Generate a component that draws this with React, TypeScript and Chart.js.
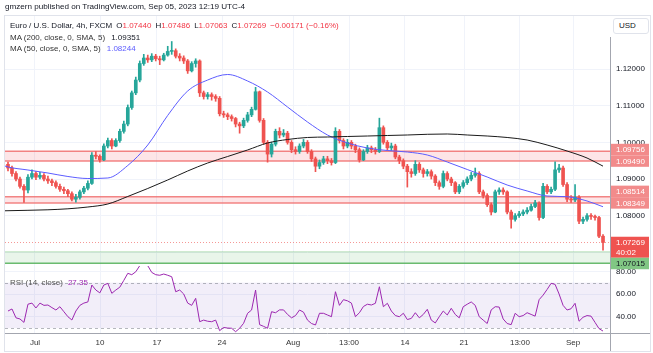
import React, { useEffect, useRef } from "react";
import { Chart, registerables } from "chart.js";
Chart.register(...registerables);

const FONT = "'Liberation Sans', Arial, Helvetica, sans-serif";

// ---------- data ----------
const firstOpen = 1.094;
const closes = [
  1.0930, 1.0915, 1.0900, 1.0880, 1.0870, 1.0905, 1.0915, 1.0905, 1.0910, 1.0900,
  1.0895, 1.0890, 1.0880, 1.0872, 1.0868, 1.0860, 1.0845, 1.0850, 1.0865, 1.0875,
  1.0888, 1.0965, 1.0962, 1.0952, 1.0990, 1.1005, 1.0990, 1.1005, 1.1030, 1.1050,
  1.1095, 1.1135, 1.1170, 1.1215, 1.1230, 1.1225, 1.1235, 1.1228, 1.1225, 1.1238,
  1.1248, 1.1250, 1.1235, 1.1230, 1.1222, 1.1195, 1.1215, 1.1222, 1.1135, 1.1125,
  1.1130, 1.1125, 1.1120, 1.1078, 1.1075, 1.1070, 1.1065, 1.1050, 1.1045, 1.1060,
  1.1075, 1.1090, 1.1138, 1.1060, 1.1000, 1.0968, 1.0995, 1.1030, 1.1020, 1.1025,
  1.1000, 1.0980, 1.0975, 1.0990, 1.1000, 1.0975, 1.0955, 1.0935, 1.0945, 1.0955,
  1.0950, 1.0945, 1.1030, 1.1005, 1.0990, 1.1000, 1.0990, 1.0980, 1.0952, 1.0975,
  1.0985, 1.0980, 1.0975, 1.1040, 1.1000, 1.0985, 1.0990, 1.0960, 1.0950, 1.0935,
  1.0920, 1.0915, 1.0940, 1.0925, 1.0915, 1.0920, 1.0908, 1.0890, 1.0880, 1.0915,
  1.0900, 1.0890, 1.0865, 1.0880, 1.0890, 1.0900, 1.0910, 1.0915, 1.0865, 1.0855,
  1.0830, 1.0810, 1.0865, 1.0870, 1.0865, 1.0810, 1.0790, 1.0800, 1.0805, 1.0810,
  1.0815, 1.0825, 1.0835, 1.0795, 1.0880, 1.0865, 1.0872, 1.0925, 1.0930, 1.0885,
  1.0845, 1.0843, 1.0850, 1.0785, 1.0790, 1.0800, 1.0798, 1.0795, 1.0744, 1.07269,
];
const highs = [
  1.0946, 1.0935, 1.0920, 1.0905, 1.0885, 1.0912, 1.0925, 1.0920, 1.0918, 1.0915,
  1.0908, 1.0900, 1.0895, 1.0886, 1.0878, 1.0872, 1.0865, 1.0858, 1.0870, 1.0880,
  1.0895, 1.0972, 1.0975, 1.0966, 1.0996, 1.1012, 1.1010, 1.1010, 1.1036, 1.1058,
  1.1102, 1.1140, 1.1178, 1.1222, 1.1240, 1.1238, 1.1242, 1.1240, 1.1235, 1.1243,
  1.1262, 1.1275, 1.1255, 1.1242, 1.1236, 1.1226, 1.1220, 1.1228, 1.1225, 1.1140,
  1.1136, 1.1135, 1.1130, 1.1125, 1.1085, 1.1080, 1.1075, 1.1068, 1.1055, 1.1066,
  1.1082, 1.1096, 1.1150, 1.1140, 1.1065, 1.1005, 1.1000, 1.1036, 1.1040, 1.1035,
  1.1030, 1.1005, 1.0988, 1.0996, 1.1008, 1.1005, 1.0980, 1.0960, 1.0952, 1.0962,
  1.0962, 1.0956, 1.1040, 1.1035, 1.1010, 1.1008, 1.1005, 1.0995, 1.0985, 1.0980,
  1.0992, 1.0990, 1.0986, 1.1066, 1.1045, 1.1005, 1.0998, 1.0995, 1.0965, 1.0955,
  1.0940, 1.0928, 1.0950, 1.0945, 1.0930, 1.0926, 1.0925, 1.0912, 1.0895, 1.0922,
  1.0920, 1.0905, 1.0893, 1.0885, 1.0896, 1.0906, 1.0918, 1.0930, 1.0920, 1.0870,
  1.0860, 1.0835, 1.0870, 1.0876, 1.0876, 1.0868, 1.0815, 1.0806, 1.0812, 1.0816,
  1.0822, 1.0832, 1.0842, 1.0838, 1.0888, 1.0885, 1.0878, 1.0947, 1.0940, 1.0935,
  1.0890, 1.0855, 1.0885, 1.0855, 1.0796, 1.0806, 1.0806, 1.0802, 1.0798, 1.07486,
];
const lows = [
  1.0922, 1.0908, 1.0895, 1.0875, 1.0836, 1.0862, 1.0900, 1.0898, 1.0900, 1.0895,
  1.0888, 1.0882, 1.0875, 1.0866, 1.0860, 1.0852, 1.0840, 1.0837, 1.0845, 1.0860,
  1.0870, 1.0885, 1.0955, 1.0946, 1.0950, 1.0985, 1.0982, 1.0988, 1.1000, 1.1025,
  1.1045, 1.1090, 1.1130, 1.1165, 1.1210, 1.1218, 1.1220, 1.1222, 1.1212, 1.1222,
  1.1235, 1.1240, 1.1230, 1.1222, 1.1215, 1.1188, 1.1192, 1.1205, 1.1125, 1.1118,
  1.1118, 1.1115, 1.1112, 1.1072, 1.1068, 1.1062, 1.1058, 1.1042, 1.1025, 1.1040,
  1.1055, 1.1070, 1.1088, 1.1055, 1.0995, 1.0946, 1.0960, 1.0990, 1.1012, 1.1015,
  1.0995, 1.0972, 1.0968, 1.0970, 1.0985, 1.0970, 1.0948, 1.0920, 1.0928, 1.0940,
  1.0942, 1.0938, 1.0942, 1.0998, 1.0982, 1.0985, 1.0982, 1.0972, 1.0946, 1.0950,
  1.0970, 1.0972, 1.0968, 1.0972, 1.0995, 1.0978, 1.0978, 1.0955, 1.0942, 1.0928,
  1.0878, 1.0905, 1.0910, 1.0918, 1.0905, 1.0908, 1.0900, 1.0882, 1.0872, 1.0876,
  1.0895, 1.0882, 1.0860, 1.0860, 1.0875, 1.0885, 1.0895, 1.0905, 1.0860, 1.0848,
  1.0825, 1.0802, 1.0808, 1.0858, 1.0858, 1.0805, 1.0766, 1.0785, 1.0795, 1.0800,
  1.0805, 1.0812, 1.0822, 1.0788, 1.0792, 1.0860, 1.0860, 1.0868, 1.0918, 1.0880,
  1.0838, 1.0836, 1.0838, 1.0778, 1.0778, 1.0785, 1.0790, 1.0788, 1.0740, 1.07063,
];
const rsi = [
  45, 46.8, 39, 38, 35, 51, 52, 47.7, 52, 50,
  50.3, 48, 45.9, 48.8, 44.4, 40, 37.1, 45, 50, 52,
  53, 67.9, 63.5, 61, 67.9, 69.4, 60.6, 63.5, 66, 72,
  78.2, 77, 79.6, 85, 86, 85, 79, 77, 76.5, 77.6,
  76.5, 75.2, 62, 63.5, 60, 52, 50, 56.2, 35.6, 37,
  36, 35.6, 37, 27.7, 30.5, 30, 29.8, 26.8, 29.8, 34.2,
  43, 45.9, 63.5, 33, 31.5, 29.8, 44.4, 43.5, 46, 46,
  42, 39, 41, 45.9, 44, 37, 34, 32.7, 43, 43,
  41.5, 40, 62, 50, 55, 54, 52, 40, 43.5, 49,
  51, 50.3, 51.8, 66.4, 48.8, 51.8, 45, 41, 40, 43,
  37.5, 38.5, 43.5, 39, 42, 46.5, 37, 34.5, 40, 45,
  41.5, 47.4, 42, 39, 48.8, 51, 53, 50, 40, 37,
  34, 46, 48.8, 48.5, 38, 34, 33, 43, 40, 41,
  43.5, 42, 40.5, 55, 59, 64, 69.4, 68.5, 60, 50,
  45.9, 47, 51.8, 36, 39.5, 41, 40.5, 35, 29.5, 27.35,
];
// moving averages sampled at candle indices
const maIdx = [-0.75, 0, 5, 10, 15, 20, 25, 30, 35, 40, 45, 50, 55, 60, 65, 70, 75, 80, 85, 90, 95, 100, 105, 110, 115, 120, 125, 130, 135, 140, 145, 149];
const ma200 = [
  1.08134, 1.08136, 1.08147, 1.08161, 1.08188, 1.08237, 1.08319, 1.08524, 1.08742, 1.08974,
  1.09219, 1.09437, 1.09614, 1.09792, 1.09983, 1.10078, 1.10133, 1.10146, 1.10160, 1.10173,
  1.10187, 1.10201, 1.10220, 1.10228, 1.10201, 1.10173, 1.10133, 1.10064, 1.09928, 1.09764,
  1.09573, 1.09351,
];
const ma50 = [
  1.09355, 1.09328, 1.09246, 1.09164, 1.09069, 1.09014, 1.09028, 1.09370, 1.09928, 1.10735,
  1.11401, 1.11700, 1.11851, 1.11673, 1.11373, 1.10964, 1.10555, 1.10201, 1.09983, 1.09846,
  1.09778, 1.09737, 1.09655, 1.09464, 1.09260, 1.09055, 1.08837, 1.08674, 1.08537, 1.08518,
  1.08401, 1.08244,
];
const timeTickPos = [6.76, 23.04, 37.3, 53.6, 71.4, 85.4, 99.4, 114.2, 128.2, 141.5];
const timeTickLabels = ["Jul", "10", "17", "24", "Aug", "13:00", "14", "21", "13:00", "Sep"];
const priceTicks = [1.07, 1.08, 1.09, 1.1, 1.11, 1.12];
const rsiTicks = [40, 60, 80];
const rsiBand = [30, 70];
const resistanceZone = [1.0949, 1.09756];
const midZone = [1.08349, 1.08514];
const supportZone = [1.06702, 1.07015];
const lastClose = 1.07269;
const countdown = "40:02";
const ohlcLetters = ["O", "H", "L", "C"];
const ohlcValues = [1.0744, 1.07486, 1.07063, 1.07269];
const change = -0.00171;
const changePct = -0.16;
const ma200Last = 1.09351;
const ma50Last = 1.08244;
const rsiLast = 27.35;

// view ranges
const xMin = -0.75;
const xMax = 150.75;
const priceMin = 1.06628;
const priceMax = 1.13446;
const rsiMin = 25.64;
const rsiMax = 84.67;

const UP = "#26a69a";
const DOWN = "#ef5350";
const GRID = "#f0f3fa";
const AXIS = "#a3a6af";

const fmt5 = (v: number) => v.toFixed(5);

const noPad = (s: any) => {
  s.paddingTop = 0;
  s.paddingBottom = 0;
  s.paddingLeft = 0;
  s.paddingRight = 0;
};

const mainPlugin = {
  id: "mainDecor",
  beforeDatasetsDraw(chart: any) {
    const { ctx, chartArea: a, scales } = chart;
    const y = scales.y;
    ctx.save();
    ctx.beginPath();
    ctx.rect(a.left, a.top, a.right - a.left, a.bottom - a.top);
    ctx.clip();
    const hline = (yy: number, color: string, w: number, dash: number[] = []) => {
      ctx.beginPath();
      ctx.setLineDash(dash);
      ctx.strokeStyle = color;
      ctx.lineWidth = w;
      ctx.moveTo(a.left, yy);
      ctx.lineTo(a.right, yy);
      ctx.stroke();
      ctx.setLineDash([]);
    };
    const zone = (lo: number, hi: number, fill: string, topC: string, botC: string, topW: number, botW: number) => {
      const y1 = y.getPixelForValue(hi);
      const y2 = y.getPixelForValue(lo);
      ctx.fillStyle = fill;
      ctx.fillRect(a.left, y1, a.right - a.left, y2 - y1);
      hline(y1, topC, topW);
      hline(y2, botC, botW);
    };
    zone(resistanceZone[0], resistanceZone[1], "rgba(242,54,69,0.13)", "rgba(240,110,110,0.85)", "rgba(240,110,110,0.85)", 1.5, 1.5);
    zone(midZone[0], midZone[1], "rgba(242,54,69,0.13)", "rgba(240,110,110,0.85)", "rgba(240,110,110,0.85)", 1.5, 1.5);
    zone(supportZone[0], supportZone[1], "rgba(76,175,80,0.12)", "rgba(76,175,80,0.35)", "rgba(90,180,95,0.9)", 1, 1.5);
    hline(Math.round(y.getPixelForValue(lastClose)) + 0.5, "rgba(239,83,80,0.6)", 1, [1, 2]);
    ctx.restore();
  },
  afterDraw(chart: any) {
    const { ctx, chartArea: a, scales } = chart;
    const y = scales.y;
    ctx.save();
    ctx.strokeStyle = AXIS;
    ctx.lineWidth = 1;
    ctx.beginPath();
    ctx.moveTo(a.right + 0.5, 21);
    ctx.lineTo(a.right + 0.5, chart.height);
    ctx.stroke();
    const labs = [
      { price: lastClose, lines: [fmt5(lastClose), countdown], bg: "#ef5350", fg: "#ffffff" },
      { price: supportZone[1], lines: [fmt5(supportZone[1])], bg: "#81c784", fg: "#131722" },
      { price: midZone[0], lines: [fmt5(midZone[0])], bg: "#f28b8b", fg: "#ffffff" },
      { price: midZone[1], lines: [fmt5(midZone[1])], bg: "#f28b8b", fg: "#ffffff" },
      { price: resistanceZone[0], lines: [fmt5(resistanceZone[0])], bg: "#f28b8b", fg: "#ffffff" },
      { price: resistanceZone[1], lines: [fmt5(resistanceZone[1])], bg: "#f28b8b", fg: "#ffffff" },
    ];
    const placed: { yc: number; top: number; bot: number }[] = [];
    const boxes: { yc: number; top: number; bot: number; lab: any }[] = [];
    for (const lab of labs) {
      const yn = y.getPixelForValue(lab.price);
      const up = 5.75;
      const down = 5.75 + (lab.lines.length - 1) * 9.5;
      let yc = yn;
      for (let pass = 0; pass < 3; pass++) {
        for (const p of placed) {
          const top = yc - up;
          const bot = yc + down;
          if (bot > p.top && top < p.bot) {
            if (yn < p.yc) yc = p.top - down;
            else yc = p.bot + up;
          }
        }
      }
      const b = { yc, top: yc - up, bot: yc + down };
      placed.push(b);
      boxes.push({ ...b, lab });
    }
    ctx.font = `8px ${FONT}`;
    ctx.textBaseline = "middle";
    ctx.textAlign = "left";
    for (const b of boxes) {
      ctx.fillStyle = b.lab.bg;
      ctx.fillRect(a.right + 1, b.top, chart.width - a.right - 2, b.bot - b.top);
      ctx.fillStyle = b.lab.fg;
      b.lab.lines.forEach((t: string, k: number) => {
        ctx.fillText(t, a.right + 6, b.yc + k * 9.5 + 0.5);
      });
    }
    ctx.restore();
  },
};

const rsiPlugin = {
  id: "rsiDecor",
  beforeDatasetsDraw(chart: any) {
    const { ctx, chartArea: a, scales } = chart;
    const y = scales.y;
    ctx.save();
    const y1 = y.getPixelForValue(rsiBand[1]);
    const y2 = y.getPixelForValue(rsiBand[0]);
    ctx.fillStyle = "rgba(126,87,194,0.1)";
    ctx.fillRect(a.left, y1, a.right - a.left, y2 - y1);
    ctx.strokeStyle = "rgba(120,123,134,0.55)";
    ctx.lineWidth = 1;
    ctx.setLineDash([3, 3]);
    [y1, y2].forEach((yy) => {
      ctx.beginPath();
      ctx.moveTo(a.left, Math.round(yy) + 0.5);
      ctx.lineTo(a.right, Math.round(yy) + 0.5);
      ctx.stroke();
    });
    ctx.restore();
  },
  afterDraw(chart: any) {
    const { ctx, chartArea: a } = chart;
    ctx.save();
    ctx.strokeStyle = AXIS;
    ctx.lineWidth = 1;
    ctx.beginPath();
    ctx.moveTo(a.right + 0.5, 0);
    ctx.lineTo(a.right + 0.5, chart.height);
    ctx.moveTo(0, a.bottom + 0.5);
    ctx.lineTo(chart.width, a.bottom + 0.5);
    ctx.stroke();
    ctx.restore();
  },
};

export default function App() {
  const mainRef = useRef<HTMLCanvasElement>(null);
  const rsiRef = useRef<HTMLCanvasElement>(null);

  useEffect(() => {
    const opens = closes.map((c, i) => (i === 0 ? firstOpen : closes[i - 1]));
    const colors = closes.map((c, i) => (c >= opens[i] ? UP : DOWN));
    const bodies = closes.map((c, i) => ({ x: i, y: [Math.min(opens[i], c), Math.max(opens[i], c)] }));
    const wicks = closes.map((c, i) => ({
      x: i,
      y: [Math.min(lows[i], opens[i], c), Math.max(highs[i], opens[i], c)],
    }));

    const main = new Chart(mainRef.current as HTMLCanvasElement, {
      type: "bar",
      data: {
        datasets: [
          {
            type: "line",
            data: maIdx.map((x, k) => ({ x, y: ma200[k] })),
            borderColor: "#1a1a1a",
            borderWidth: 1,
            pointRadius: 0,
            cubicInterpolationMode: "monotone",
          } as any,
          {
            type: "line",
            data: maIdx.map((x, k) => ({ x, y: ma50[k] })),
            borderColor: "#5c5cff",
            borderWidth: 1,
            pointRadius: 0,
            cubicInterpolationMode: "monotone",
          } as any,
          {
            type: "bar",
            data: bodies,
            backgroundColor: colors,
            barThickness: 3,
            grouped: false,
            minBarLength: 1,
            borderWidth: 0,
          } as any,
          {
            type: "bar",
            data: wicks,
            backgroundColor: colors,
            barThickness: 1,
            grouped: false,
            borderWidth: 0,
          } as any,
        ],
      },
      options: {
        responsive: false,
        animation: false,
        events: [],
        layout: { padding: { left: 0, right: 0, top: 0, bottom: 6 }, autoPadding: false },
        plugins: { legend: { display: false }, tooltip: { enabled: false } },
        scales: {
          x: {
            type: "linear",
            min: xMin,
            max: xMax,
            offset: false,
            grid: { color: GRID, drawTicks: false, offset: false },
            border: { display: false },
            ticks: { display: false },
            afterBuildTicks: (s: any) => {
              s.ticks = timeTickPos.map((v) => ({ value: v }));
            },
            afterFit: (s: any) => {
              s.height = 0;
              noPad(s);
            },
          },
          y: {
            position: "right",
            min: priceMin,
            max: priceMax,
            grid: { color: GRID, drawTicks: false },
            border: { display: false },
            ticks: {
              padding: 6,
              color: "#131722",
              font: { size: 8, family: FONT },
              callback: (v: any) => Number(v).toFixed(5),
            },
            afterBuildTicks: (s: any) => {
              s.ticks = priceTicks.map((v) => ({ value: v }));
            },
            afterFit: (s: any) => {
              s.width = 40;
              noPad(s);
            },
          },
        },
      } as any,
      plugins: [mainPlugin],
    });

    const rsiChart = new Chart(rsiRef.current as HTMLCanvasElement, {
      type: "line",
      data: {
        datasets: [
          {
            data: rsi.map((v, i) => ({ x: i, y: v })),
            borderColor: "#9c27b0",
            borderWidth: 1,
            pointRadius: 0,
            tension: 0,
          },
        ],
      },
      options: {
        responsive: false,
        animation: false,
        events: [],
        layout: { padding: 0, autoPadding: false },
        plugins: { legend: { display: false }, tooltip: { enabled: false } },
        scales: {
          x: {
            type: "linear",
            min: xMin,
            max: xMax,
            grid: { color: GRID, drawTicks: false },
            border: { display: false },
            ticks: {
              padding: 5,
              color: "#333333",
              font: { size: 8, family: FONT },
              autoSkip: false,
              maxRotation: 0,
              callback: (_v: any, idx: number) => timeTickLabels[idx],
            },
            afterBuildTicks: (s: any) => {
              s.ticks = timeTickPos.map((v) => ({ value: v }));
            },
            afterFit: (s: any) => {
              s.height = 18;
              noPad(s);
            },
          },
          y: {
            position: "right",
            min: rsiMin,
            max: rsiMax,
            grid: { color: GRID, drawTicks: false },
            border: { display: false },
            ticks: {
              padding: 6,
              color: "#131722",
              font: { size: 8, family: FONT },
              callback: (v: any) => Number(v).toFixed(2),
            },
            afterBuildTicks: (s: any) => {
              s.ticks = rsiTicks.map((v) => ({ value: v }));
            },
            afterFit: (s: any) => {
              s.width = 40;
              noPad(s);
            },
          },
        },
      } as any,
      plugins: [rsiPlugin],
    });

    return () => {
      main.destroy();
      rsiChart.destroy();
    };
  }, []);

  const red = "#f23645";
  const txt: React.CSSProperties = { position: "absolute", whiteSpace: "nowrap", fontSize: 8, lineHeight: "11px", zIndex: 3 };

  return (
    <div style={{ position: "absolute", left: 0, top: 0, width: 653, height: 353, background: "#ffffff", fontFamily: FONT, overflow: "hidden" }}>
      <div style={{ ...txt, left: 5, top: 1, color: "#131722", fontSize: 8.1 }}>
        gmzern published on TradingView.com, Sep 05, 2023 12:19 UTC-4
      </div>
      <div style={{ position: "absolute", left: 4, top: 15, width: 647, height: 337, border: "1px solid #e0e3eb", boxSizing: "border-box" }} />
      <canvas ref={rsiRef} width={645} height={85} style={{ position: "absolute", left: 5, top: 266, zIndex: 1 }} />
      <canvas ref={mainRef} width={645} height={256} style={{ position: "absolute", left: 5, top: 16, zIndex: 2 }} />
      <div style={{ ...txt, left: 10, top: 19.5, color: "#131722" }}>
        <span>Euro / U.S. Dollar, 4h, FXCM</span>
        {ohlcLetters.map((l, k) => (
          <span key={l} style={{ marginLeft: 4 }}>
            {l}
            <span style={{ color: red }}>{ohlcValues[k].toFixed(5)}</span>
          </span>
        ))}
        <span style={{ marginLeft: 4, color: red }}>
          {(change < 0 ? "\u2212" : "+") + Math.abs(change).toFixed(5)} ({(changePct < 0 ? "\u2212" : "+") + Math.abs(changePct).toFixed(2)}%)
        </span>
      </div>
      <div style={{ ...txt, left: 10, top: 31.8, color: "#333333" }}>
        MA (200, close, 0, SMA, 5)<span style={{ marginLeft: 6, color: "#131722" }}>{ma200Last.toFixed(5)}</span>
      </div>
      <div style={{ ...txt, left: 10, top: 43.2, color: "#333333" }}>
        MA (50, close, 0, SMA, 5)<span style={{ marginLeft: 6, color: "#5c5cff" }}>{ma50Last.toFixed(5)}</span>
      </div>
      <div style={{ ...txt, left: 10, top: 277, color: "#555555" }}>
        RSI (14, close)<span style={{ marginLeft: 5, color: "#9c27b0" }}>{rsiLast.toFixed(2)}</span>
      </div>
      <div
        style={{
          position: "absolute",
          left: 613,
          top: 18,
          width: 36,
          height: 16,
          border: "1px solid #e0e3eb",
          borderRadius: 3,
          boxSizing: "border-box",
          fontSize: 8,
          lineHeight: "14px",
          paddingLeft: 5,
          color: "#131722",
          background: "#ffffff",
          zIndex: 3,
        }}
      >
        USD
      </div>
    </div>
  );
}
